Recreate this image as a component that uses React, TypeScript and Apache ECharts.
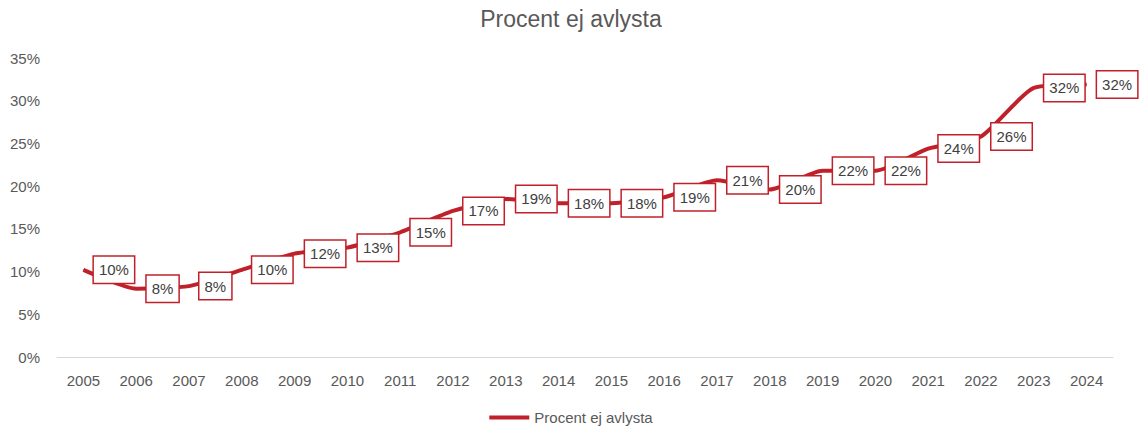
import React, { useEffect, useRef } from "react";
import * as echarts from "echarts";

const title = "Procent ej avlysta";
const seriesName = "Procent ej avlysta";
const years = ["2005","2006","2007","2008","2009","2010","2011","2012","2013","2014","2015","2016","2017","2018","2019","2020","2021","2022","2023","2024"];
const values = [10.2, 8.0, 8.3, 10.2, 12.1, 12.8, 14.6, 17.1, 18.5, 18.0, 18.0, 18.7, 20.7, 19.6, 21.8, 21.8, 24.4, 25.8, 31.5, 31.9];
const yTicks = { min: 0, max: 35, interval: 5 };

const RED = "#C0202A";
const GREY = "#595959";
const FONT = "Liberation Sans, Arial, sans-serif";

export default function App() {
  const ref = useRef<HTMLDivElement>(null);
  useEffect(() => {
    document.body.style.margin = "0";
    const chart = echarts.init(ref.current!, null, { renderer: "svg" });
    chart.setOption({
      animation: false,
      backgroundColor: "#ffffff",
      title: {
        text: title,
        left: "center",
        top: 2,
        textStyle: { fontFamily: FONT, fontSize: 23, fontWeight: "normal", color: GREY },
      },
      legend: {
        bottom: -2,
        left: "center",
        icon: "rect",
        itemWidth: 40,
        itemHeight: 4,
        itemGap: 4,
        textStyle: { fontFamily: FONT, fontSize: 15, color: GREY },
        data: [seriesName],
      },
      grid: { left: 57, right: 29, top: 58, bottom: 71 },
      xAxis: {
        type: "category",
        data: years,
        boundaryGap: true,
        axisLine: { lineStyle: { color: "#D9D9D9", width: 1 } },
        axisTick: { show: false },
        axisLabel: { fontFamily: FONT, fontSize: 15, color: GREY, margin: 16 },
      },
      yAxis: {
        type: "value",
        min: yTicks.min,
        max: yTicks.max,
        interval: yTicks.interval,
        splitLine: { show: false },
        axisLine: { show: false },
        axisTick: { show: false },
        axisLabel: { fontFamily: FONT, fontSize: 15, color: GREY, margin: 17, formatter: "{value}%" },
      },
      series: [
        {
          name: seriesName,
          type: "line",
          data: values,
          smooth: 0.2,
          symbol: "circle",
          symbolSize: 1,
          itemStyle: { color: RED },
          lineStyle: { color: RED, width: 4 },
          label: {
            show: true,
            position: "right",
            distance: 10,
            formatter: (p: any) => Math.round(p.value) + "%",
            fontFamily: FONT,
            fontSize: 15,
            color: "#404040",
            backgroundColor: "#ffffff",
            borderColor: RED,
            borderWidth: 1.5,
            padding: [6, 5, 5, 5],
          },
        },
      ],
    });
    return () => chart.dispose();
  }, []);
  return <div ref={ref} style={{ width: 1142, height: 428 }} />;
}
